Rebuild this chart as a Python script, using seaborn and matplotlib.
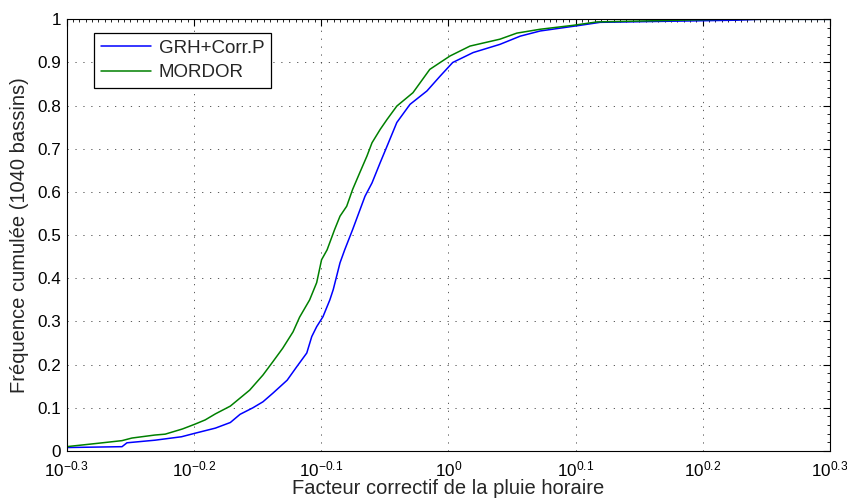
import numpy as np
import pandas as pd
import matplotlib
matplotlib.use("Agg")
import matplotlib.pyplot as plt
import matplotlib.ticker as mticker
import seaborn as sns

# ---- data ----
grh_factor = [0.501, 0.554, 0.559, 0.588, 0.617, 0.632, 0.656, 0.674, 0.686, 0.702,
              0.715, 0.728, 0.747, 0.760, 0.774, 0.781, 0.788, 0.797, 0.807, 0.812,
              0.822, 0.829, 0.841, 0.860, 0.871, 0.884, 0.895, 0.911, 0.933, 0.962,
              0.985, 1.008, 1.046, 1.098, 1.139, 1.181, 1.269, 1.316, 1.529, 1.687,
              1.758, 1.995]
grh_freq = [0.008, 0.010, 0.019, 0.025, 0.033, 0.041, 0.053, 0.066, 0.085, 0.100,
            0.114, 0.134, 0.164, 0.195, 0.227, 0.265, 0.288, 0.311, 0.350, 0.374,
            0.436, 0.466, 0.513, 0.590, 0.621, 0.668, 0.706, 0.761, 0.803, 0.834,
            0.868, 0.900, 0.923, 0.942, 0.961, 0.973, 0.986, 0.993, 0.996, 0.998,
            1.000, 1.000]

mordor_factor = [0.501, 0.531, 0.554, 0.564, 0.588, 0.599, 0.618, 0.632, 0.644, 0.656,
                 0.674, 0.698, 0.715, 0.728, 0.741, 0.755, 0.764, 0.778, 0.788, 0.795,
                 0.803, 0.814, 0.822, 0.832, 0.841, 0.852, 0.863, 0.871, 0.884, 0.895,
                 0.911, 0.938, 0.967, 1.003, 1.040, 1.098, 1.132, 1.181, 1.253, 1.309,
                 1.415, 1.521, 1.645, 1.995]
mordor_freq = [0.010, 0.018, 0.024, 0.030, 0.037, 0.039, 0.051, 0.062, 0.072, 0.086,
               0.104, 0.141, 0.176, 0.207, 0.238, 0.276, 0.310, 0.350, 0.390, 0.443,
               0.466, 0.513, 0.544, 0.567, 0.606, 0.645, 0.683, 0.714, 0.745, 0.768,
               0.799, 0.830, 0.884, 0.915, 0.938, 0.954, 0.968, 0.977, 0.986, 0.994,
               0.996, 0.998, 1.000, 1.000]

series_names = ["GRH+Corr.P", "MORDOR"]
series_colors = ["#0000FF", "#008000"]
x_tick_exponents = ["-0.3", "-0.2", "-0.1", "0", "0.1", "0.2", "0.3"]
y_tick_labels = ["0", "0.1", "0.2", "0.3", "0.4", "0.5", "0.6", "0.7", "0.8", "0.9", "1"]
x_label = "Facteur correctif de la pluie horaire"
y_label = "Fréquence cumulée (1040 bassins)"

# ---- styling ----
sns.set_style("white")
plt.rcParams["font.family"] = ["Liberation Sans", "DejaVu Sans"]
plt.rcParams["mathtext.fontset"] = "custom"
plt.rcParams["mathtext.rm"] = "Liberation Sans"
plt.rcParams["mathtext.it"] = "Liberation Sans"
plt.rcParams["mathtext.default"] = "regular"

df = pd.concat([
    pd.DataFrame({"facteur": grh_factor, "freq": grh_freq, "modele": series_names[0]}),
    pd.DataFrame({"facteur": mordor_factor, "freq": mordor_freq, "modele": series_names[1]}),
], ignore_index=True)

fig = plt.figure(figsize=(8.47, 4.99), dpi=100)
ax = fig.add_axes([0.0787, 0.0962, 0.9012, 0.8651])

sns.lineplot(data=df, x="facteur", y="freq", hue="modele",
             palette=dict(zip(series_names, series_colors)),
             sort=False, estimator=None, linewidth=1.1, ax=ax)

ax.set_xscale("log")
ax.set_xlim(10 ** -0.3, 10 ** 0.3)
ax.set_ylim(0, 1)

xt = [10 ** float(e) for e in x_tick_exponents]
ax.xaxis.set_major_locator(mticker.FixedLocator(xt))
ax.xaxis.set_major_formatter(mticker.FixedFormatter([r"$10^{%s}$" % e for e in x_tick_exponents]))
minor_x = [10 ** (-0.3 + 0.005 * k) for k in range(121)]
ax.xaxis.set_minor_locator(mticker.FixedLocator(minor_x))
ax.xaxis.set_minor_formatter(mticker.NullFormatter())

ax.yaxis.set_major_locator(mticker.FixedLocator(np.linspace(0, 1, 11)))
ax.yaxis.set_major_formatter(mticker.FixedFormatter(y_tick_labels))
ax.yaxis.set_minor_locator(mticker.AutoMinorLocator(5))

ax.tick_params(which="both", direction="in", top=True, right=True, colors="black",
               labelsize=12.3)
ax.tick_params(which="major", length=5, width=0.8)
ax.tick_params(which="minor", length=2, width=0.6)
ax.tick_params(axis="x", which="major", pad=6)
ax.tick_params(axis="y", which="major", pad=4)

ax.grid(True, which="major", color="0.25", linestyle=(0, (1.5, 8)), linewidth=0.6)
for sp in ax.spines.values():
    sp.set_color("black")
    sp.set_linewidth(0.8)

ax.set_xlabel(x_label, fontsize=14.5, labelpad=0)
ax.set_ylabel(y_label, fontsize=14.5, labelpad=6)

leg = ax.legend(loc="upper left", bbox_to_anchor=(0.036, 0.968), fontsize=13.5,
                frameon=True, fancybox=False, edgecolor="black", framealpha=1,
                handlelength=2.7, handletextpad=0.4, borderpad=0.35, labelspacing=0.4,
                borderaxespad=0)
leg.get_frame().set_linewidth(0.9)
for line in leg.get_lines():
    line.set_linewidth(1.1)

fig.savefig("out.png", dpi=100)
